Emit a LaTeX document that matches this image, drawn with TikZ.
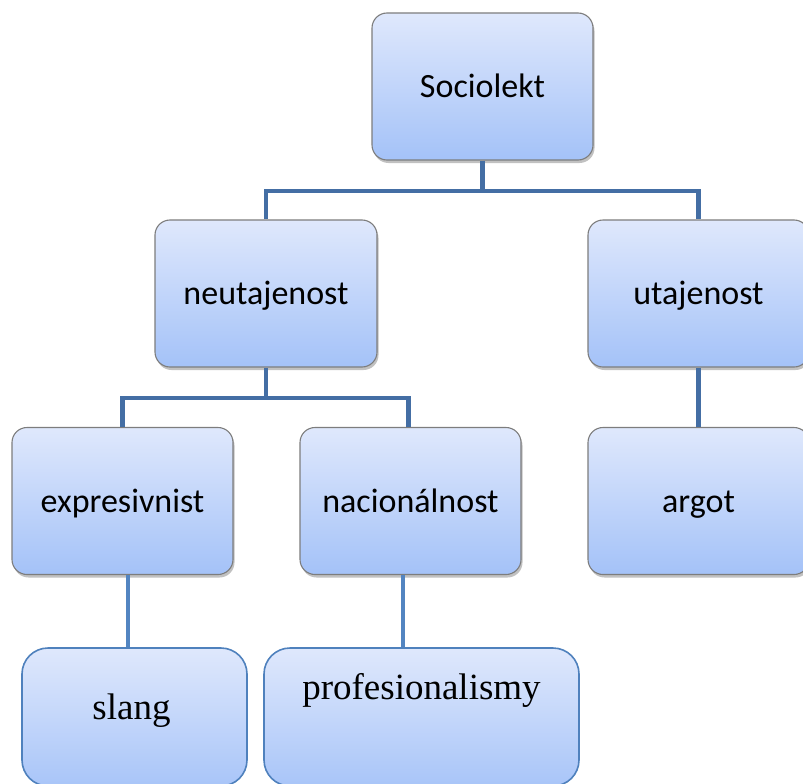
\documentclass[tikz,border=0pt]{standalone}
\usepackage{fontspec}
\setmainfont{Carlito}
\newfontfamily\tnr{Liberation Serif}
\usetikzlibrary{shadows}
\definecolor{gtop}{RGB}{223,232,252}
\definecolor{gbot}{RGB}{164,194,248}
\definecolor{gborder}{RGB}{125,125,125}
\definecolor{bborder}{RGB}{79,129,189}
\definecolor{connA}{RGB}{68,110,164}
\definecolor{connB}{RGB}{83,133,193}
\tikzset{
  box/.style={rectangle, rounded corners=15pt, draw=gborder, line width=1.1pt,
    top color=gtop, bottom color=gbot, minimum width=221pt, minimum height=147pt,
    inner sep=0pt, drop shadow={shadow xshift=1.5pt, shadow yshift=-3pt, opacity=.35, fill=black!70}},
  lowbox/.style={rectangle, rounded corners=26pt, draw=bborder, line width=1.6pt,
    top color=gtop, bottom color=gbot!95!white, minimum height=138pt, inner sep=0pt},
  lbl/.style={anchor=base, inner sep=0pt, font=\fontsize{34}{40}\selectfont},
  tlbl/.style={anchor=base, inner sep=0pt, font=\tnr\fontsize{37}{44}\selectfont},
  conn/.style={draw=connA, line width=4.2pt},
  conn2/.style={draw=connB, line width=4.2pt}
}
\begin{document}
\begin{tikzpicture}[x=1pt,y=-1pt]
\useasboundingbox (0,0) rectangle (803,784);
\clip (0,0) rectangle (803,784);
% boxes
\node[box] (soc) at (482.5,86.5) {};
\node[box, minimum width=222pt] (neu) at (266,293.5) {};
\node[box] (uta) at (698.5,293.5) {};
\node[box] (expr) at (122.5,501) {};
\node[box] (nac) at (410.5,501) {};
\node[box] (arg) at (698.5,501) {};
\node[lowbox, minimum width=225pt] (slang) at (134.5,717) {};
\node[lowbox, minimum width=315pt] (prof) at (421.5,717) {};
% texts
\node[lbl] (tsoc) at ([yshift=-11pt]soc.center) {Sociolekt};
\node[lbl] (tneu) at ([yshift=-11pt]neu.center) {neutajenost};
\node[lbl] (tuta) at ([yshift=-11pt]uta.center) {utajenost};
\node[lbl] (texpr) at ([yshift=-11pt]expr.center) {expresivnist};
\node[lbl] (tnac) at ([yshift=-11pt]nac.center) {nacionálnost};
\node[lbl] (targ) at ([yshift=-11pt]arg.center) {argot};
\node[tlbl] (tslang) at ([xshift=-3pt,yshift=-72pt]slang.north) {slang};
\node[tlbl] (tprof) at ([yshift=-52pt]prof.north) {profesionalismy};
% connectors
\coordinate (j1) at (482.5,191);
\coordinate (j2) at (266,398);
\draw[conn] (soc.south) -- (j1);
\draw[conn, line join=miter] (neu.north) |- (j1) -| (uta.north);
\draw[conn] (neu.south) -- (j2);
\draw[conn, line join=miter] (expr.north) |- (j2) -| ([xshift=-2pt]nac.north);
\draw[conn] (uta.south) -- (arg.north);
\draw[conn2] ([xshift=5.5pt]expr.south) -- ([xshift=-6.5pt]slang.north);
\draw[conn2] ([xshift=-7.5pt]nac.south) -- ([xshift=-18.5pt]prof.north);
\end{tikzpicture}
\end{document}
